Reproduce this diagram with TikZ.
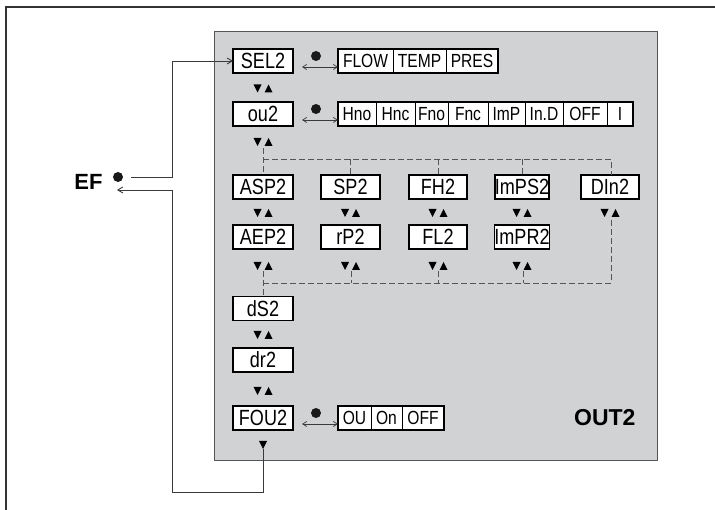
\documentclass[tikz,border=0pt]{standalone}
\usepackage{fontspec}
\setmainfont{Liberation Sans}
\newfontfamily\narrowfont[FakeStretch=0.82]{Liberation Sans}
\usetikzlibrary{arrows.meta}
\definecolor{panelgray}{HTML}{D1D2D4}
\definecolor{dashgray}{HTML}{555555}
\definecolor{linegray}{HTML}{3A3A3A}
\definecolor{framegray}{HTML}{333333}
\begin{document}
\begin{tikzpicture}[x=1pt,y=-1pt,
  lbl/.style={draw=black,line width=1.3pt,fill=white,minimum width=60pt,minimum height=24pt,inner sep=0pt,outer sep=0pt,font=\narrowfont\fontsize{22}{22}\selectfont},
  cell/.style={draw=black,line width=0.8pt,fill=white,minimum height=24pt,inner sep=0pt,outer sep=0pt,anchor=west,font=\narrowfont\fontsize{19}{19}\selectfont},
  optframe/.style={draw=black,line width=1.3pt},
  dashln/.style={draw=dashgray,dash pattern=on 6pt off 3pt,line width=0.9pt},
  conn/.style={draw=linegray,line width=0.9pt},
  barb/.style={-{Straight Barb[length=5pt,width=6pt]}},
  dblarrow/.style={draw=linegray,line width=0.7pt,{Straight Barb[length=4pt,width=5pt]}-{Straight Barb[length=4pt,width=5pt]}},
  bigdot/.style={circle,fill=black!90,inner sep=0pt,minimum size=10pt},
  ud/.pic={\fill (-9.5,-4)--(-1.5,-4)--(-5.5,4)--cycle; \fill (1.5,4)--(9.5,4)--(5.5,-4)--cycle;},
  dn/.pic={\fill (-4,-4)--(4,-4)--(0,4)--cycle;}
]
\useasboundingbox (0,0) rectangle (715,510);
% outer frame (left and top)
\draw[framegray,line width=2pt] (6,510) -- (6,7) -- (715,7);
% panel
\draw[fill=panelgray,draw=dashgray,line width=1pt] (214,32) rectangle (657,460);

% main boxes
\node[lbl] (sel2) at (263,61) {SEL2};
\node[lbl] (ou2) at (263,114) {ou2};
\node[lbl] (asp2) at (263,187) {ASP2};
\node[lbl,minimum width=59pt] (sp2) at (350.5,187) {SP2};
\node[lbl,minimum width=58pt] (fh2) at (438,187) {FH2};
\node[lbl,minimum width=54pt] (imps2) at (522,187) {ImPS2};
\node[lbl,minimum width=58pt] (din2) at (610,187) {DIn2};
\node[lbl] (aep2) at (263,237) {AEP2};
\node[lbl,minimum width=59pt] (rp2) at (350.5,237) {rP2};
\node[lbl,minimum width=58pt] (fl2) at (438,237) {FL2};
\node[lbl,minimum width=54pt] (impr2) at (522,237) {ImPR2};
\node[lbl] (ds2) at (263,308.5) {dS2};
\node[lbl] (dr2) at (263,360) {dr2};
\node[lbl] (fou2) at (263,418) {FOU2};

% option row 1
\node[cell,minimum width=55pt] (flow) at (338,61) {FLOW};
\node[cell,minimum width=53pt] (temp) at (393,61) {TEMP};
\node[cell,minimum width=52pt] (pres) at (446,61) {PRES};
\draw[optframe] (flow.north west) rectangle (pres.south east);
% option row 2
\node[cell,minimum width=38pt] (hno) at (338,114) {Hno};
\node[cell,minimum width=39pt] (hnc) at (376,114) {Hnc};
\node[cell,minimum width=33pt] (fno) at (415,114) {Fno};
\node[cell,minimum width=40pt] (fnc) at (448,114) {Fnc};
\node[cell,minimum width=37pt] (imp) at (488,114) {ImP};
\node[cell,minimum width=38pt] (ind) at (525,114) {In.D};
\node[cell,minimum width=44pt] (off) at (563,114) {OFF};
\node[cell,minimum width=26pt] (ione) at (607,114) {I};
\draw[optframe] (hno.north west) rectangle (ione.south east);
% option row 3
\node[cell,minimum width=33pt] (ou) at (338,418) {OU};
\node[cell,minimum width=31pt] (on) at (371,418) {On};
\node[cell,minimum width=42pt] (offb) at (402,418) {OFF};
\draw[optframe] (ou.north west) rectangle (offb.south east);

% dots and double arrows
\node[bigdot] (d1) at (316,56) {};
\node[bigdot] (d2) at (316,109) {};
\node[bigdot] (d3) at (316,413) {};
\draw[dblarrow] (sel2.east) ++(9,6) coordinate (a1) -- (flow.west |- a1);
\draw[dblarrow] (ou2.east) ++(9,6) coordinate (a2) -- (hno.west |- a2);
\draw[dblarrow] (fou2.east) ++(9,6) coordinate (a3) -- (ou.west |- a3);

% up/down arrows
\pic at (263,88.5) {ud};
\pic at (263,142) {ud};
\pic at (263,213) {ud};
\pic at (350.5,213) {ud};
\pic at (438,213) {ud};
\pic at (522,213) {ud};
\pic at (610,213) {ud};
\pic at (263,266) {ud};
\pic at (350.5,266) {ud};
\pic at (438,266) {ud};
\pic at (522,266) {ud};
\pic at (263,335) {ud};
\pic at (263,391) {ud};
\pic at (263,445) {dn};
\coordinate (fouarr) at (263,449);

% dashed branching
\coordinate (tl) at (263,159);
\coordinate (tr) at (611,159);
\draw[dashln] (263,148) -- (asp2.north);
\draw[dashln] (tl) -- (tr) -- (din2.north -| tr);
\draw[dashln] (sp2.north |- tl) -- (sp2.north);
\draw[dashln] (fh2.north |- tl) -- (fh2.north);
\draw[dashln] (imps2.north |- tl) -- (imps2.north);
\coordinate (bl) at (263,283);
\coordinate (br) at (611,283);
\draw[dashln] (263,271) -- (ds2.north);
\draw[dashln] (bl) -- (br) -- (611,219);
\draw[dashln] (351,271) -- (351,283);
\draw[dashln] (438,271) -- (438,283);
\draw[dashln] (523,271) -- (523,283);

% EF
\node[font=\bfseries\fontsize{22}{22}\selectfont,anchor=east] (ef) at (106,182) {EF};
\node[bigdot] (efdot) at (118,177) {};
\coordinate (c1) at (172,177);
\coordinate (c2) at (172,61);
\draw[conn,barb] (131,177) -- (c1) -- (c2) -- (sel2.west);
\coordinate (c3) at (263,492);
\coordinate (c4) at (172,492);
\coordinate (c5) at (172,190);
\draw[conn,barb] (fouarr) -- (c3) -- (c4) -- (c5) -- (117,190);

% OUT2
\node[font=\bfseries\fontsize{23}{23}\selectfont,anchor=east] (out2) at (639,418) {OUT2};
\end{tikzpicture}
\end{document}
